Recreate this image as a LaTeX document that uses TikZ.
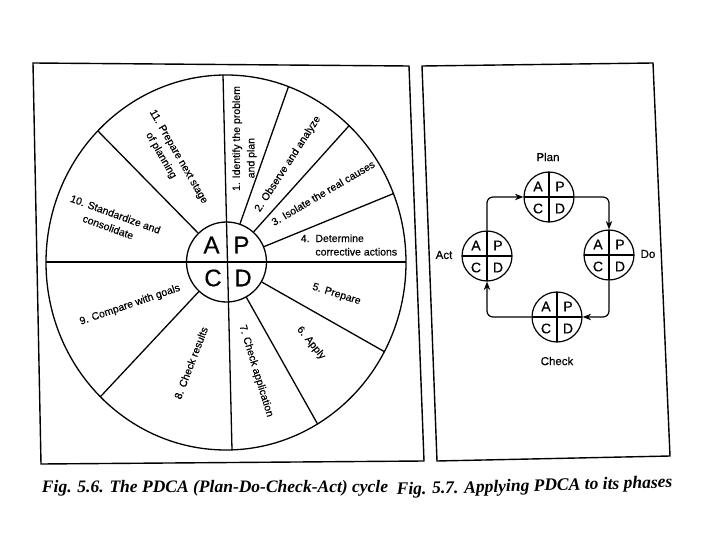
\documentclass[tikz,border=0pt]{standalone}
\usepackage{fontspec}
\setmainfont{Liberation Sans}
\newfontfamily\lblfont{Liberation Sans}[FakeBold=0.4]
\newfontfamily\capfont{Liberation Serif}
\usetikzlibrary{calc,arrows.meta}
\begin{document}
\begin{tikzpicture}[x=1pt,y=-1pt,
  lbl/.style={font=\lblfont\fontsize{10.5}{13.5}\selectfont, align=left, inner sep=0pt},
  wide/.style={font=\lblfont\fontsize{10.5}{14.5}\selectfont},
  frame/.style={line width=1.4pt, line join=miter},
  wheel/.style={line width=1.3pt},
  core/.style={circle, draw, line width=1.3pt, minimum size=80pt, inner sep=0pt},
  big/.style={font=\lblfont\fontsize{24}{24}\selectfont, inner sep=0pt},
  small/.style={font=\lblfont\fontsize{14}{14}\selectfont, inner sep=0pt},
  pdca/.style={circle, draw, line width=1.2pt, minimum size=50pt, inner sep=0pt,
     path picture={
       \draw[line width=1.2pt] (path picture bounding box.north) -- (path picture bounding box.south)
             (path picture bounding box.west) -- (path picture bounding box.east);
       \node[small] at ([xshift=-11pt,yshift=10.5pt]path picture bounding box.center) {A};
       \node[small] at ([xshift=11pt,yshift=10.5pt]path picture bounding box.center) {P};
       \node[small] at ([xshift=-11pt,yshift=-11.5pt]path picture bounding box.center) {C};
       \node[small] at ([xshift=11pt,yshift=-11.5pt]path picture bounding box.center) {D};
     }},
  phase/.style={font=\lblfont\fontsize{11.5}{12}\selectfont, inner sep=0pt},
  link/.style={line width=1.2pt, rounded corners=6pt, -{Stealth[length=8.5pt,width=6.5pt]}},
  figcap/.style={font=\capfont\bfseries\itshape\fontsize{17.5}{18}\selectfont, inner sep=0pt}
]
\useasboundingbox[fill=white] (0,0) rectangle (720,540);

% panels
\draw[frame] (33,63) -- (409,66) -- (424,461) -- (41,464) -- cycle;
\draw[frame] (422,66) -- (653,63) -- (670,456) -- (437,461) -- cycle;

% wheel
\node[core] (core) at (226.5,262) {};
\node[big] (cA) at (211.5,245) {A};
\node[big] (cP) at (241.5,245) {P};
\node[big] (cC) at (213,278) {C};
\node[big] (cD) at (243,278) {D};

\coordinate (s1) at (288,88);
\coordinate (s2) at (347,128);
\coordinate (s3) at (390,195);
\coordinate (s5) at (385,352);
\coordinate (s6) at (317,423);
\coordinate (s8) at (102,395);
\coordinate (s10) at (95,128);
\begin{scope}
  \clip (226,262.5) ellipse [x radius=180, y radius=187.5];
  \foreach \s in {s1,s2,s3,s5,s6,s8,s10}
    \draw[wheel] (core) -- ($(core.center)!1.3!(\s)$);
\end{scope}
\draw[wheel] (226,262.5) ellipse [x radius=180, y radius=187.5];
\draw[wheel] (223,75) -- (232,450);
\draw[wheel] (46,262) -- (406,262);

\node[lbl, wide, rotate=90] (t1) at (244.5,138.5) {1. Identify the problem\\\hphantom{1. }and plan};
\node[lbl, rotate=57] (t2) at (288,164) {2. Observe and analyze};
\node[lbl, rotate=30.5] (t3) at (323,193) {3. Isolate the real causes};
\node[lbl] (t4) at (349,245) {4.\ \ Determine\\\hphantom{4.\ \ }corrective actions};
\node[lbl, rotate=-17.5] (t5) at (336.5,294.5) {5. Prepare};
\node[lbl, rotate=-51] (t6) at (311,343) {6. Apply};
\node[lbl, rotate=-73] (t7) at (256,371) {7. Check application};
\node[lbl, rotate=69] (t8) at (191,363) {8. Check results};
\node[lbl, rotate=19] (t9) at (130,305) {9. Compare with goals};
\node[lbl, wide, rotate=-20] (t10) at (113,221) {10. Standardize and\\\hphantom{10. }consolidate};
\node[lbl, wide, rotate=-60] (t11) at (172,160.5) {11. Prepare next stage\\\hphantom{11. }of planning};

% phases
\node[pdca] (plan) at (549,197) {};
\node[pdca] (do) at (609,255) {};
\node[pdca] (check) at (557,317) {};
\node[pdca] (act) at (487,256) {};
\node[phase] (lplan) at (548,157) {Plan};
\node[phase] (ldo) at (648,254) {Do};
\node[phase] (lcheck) at (557,361) {Check};
\node[phase] (lact) at (444,255) {Act};

\draw[link] (plan.east) -| (do.north);
\draw[link] (do.south) |- (check.east);
\draw[link] (check.west) -| (act.south);
\draw[link] (act.north) |- (plan.west);

% captions
\node[figcap] (c1) at (215,488.5) {Fig. 5.6. The PDCA (Plan-Do-Check-Act) cycle};
\node[figcap, rotate=1.5] (c2) at (534.5,487) {Fig. 5.7. Applying PDCA to its phases};
\end{tikzpicture}
\end{document}
